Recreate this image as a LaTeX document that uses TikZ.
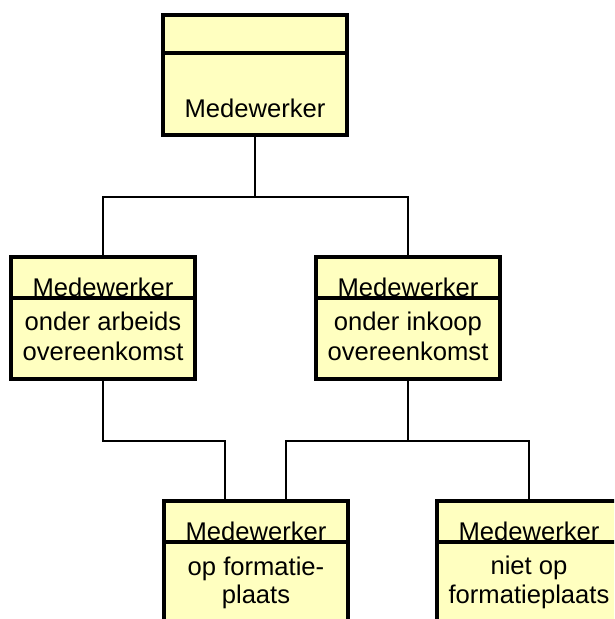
\documentclass[tikz,border=0pt]{standalone}
\usepackage{fontspec}
\setmainfont{Liberation Sans}
\begin{document}
\begin{tikzpicture}[x=1pt,y=-1pt,
  classbox/.style={draw=black,line width=4pt,fill=classfill,inner sep=0pt,
    minimum width=184pt,anchor=north west},
  divider/.style={line width=4pt},
  link/.style={draw=black,line width=2pt},
  label/.style={anchor=base,inner sep=0pt,font=\fontsize{25.6}{29}\selectfont}]
\definecolor{classfill}{RGB}{255,255,192}
\useasboundingbox (0,0) rectangle (614,619);
\clip (0,0) rectangle (614,619);
\fill[white] (0,0) rectangle (614,619);

% class boxes
\node[classbox,minimum height=120pt] (top) at (161,13) {};
\node[classbox,minimum height=122pt] (arb) at (9,255) {};
\node[classbox,minimum height=122pt] (ink) at (314,255) {};
\node[classbox,minimum height=160pt] (op) at (162,499) {};
\node[classbox,minimum height=160pt] (niet) at (435,499) {};

% generalisation lines
\draw[link] (top.south) -- ++(0,60) coordinate (fork) -| (arb.north);
\draw[link] (fork) -| (ink.north);
\draw[link] (arb.south) -- ++(0,60) -| ([xshift=-31pt]op.north);
\draw[link] (ink.south) -- ++(0,60) coordinate (fork2) -| ([xshift=30pt]op.north);
\draw[link] (fork2) -| (niet.north);

% top class
\draw[divider] (top.north west |- 0,53) -- (top.north east |- 0,53);
\node[label] (t1) at (top.north |- 0,117) {Medewerker};

% class names, cut off by the compartment line
\foreach \b/\y in {arb/298,ink/298,op/542,niet/542}{
  \begin{scope}
    \clip (\b.north west) rectangle (\b.east |- 0,\y);
    \node[label] at ([yshift=2pt]\b.north |- 0,\y) {Medewerker};
  \end{scope}
  \draw[divider] (\b.west |- 0,\y) -- (\b.east |- 0,\y);
}

% subclass descriptions
\node[label] (a1) at (arb.north |- 0,330) {onder arbeids};
\node[label] (a2) at (arb.north |- 0,360) {overeenkomst};
\node[label] (i1) at (ink.north |- 0,330) {onder inkoop};
\node[label] (i2) at (ink.north |- 0,360) {overeenkomst};
\node[label] (o1) at (op.north |- 0,575) {op formatie-};
\node[label] (o2) at (op.north |- 0,603) {plaats};
\node[label] (n1) at (niet.north |- 0,574) {niet op};
\node[label] (n2) at (niet.north |- 0,603) {formatieplaats};
\end{tikzpicture}
\end{document}
